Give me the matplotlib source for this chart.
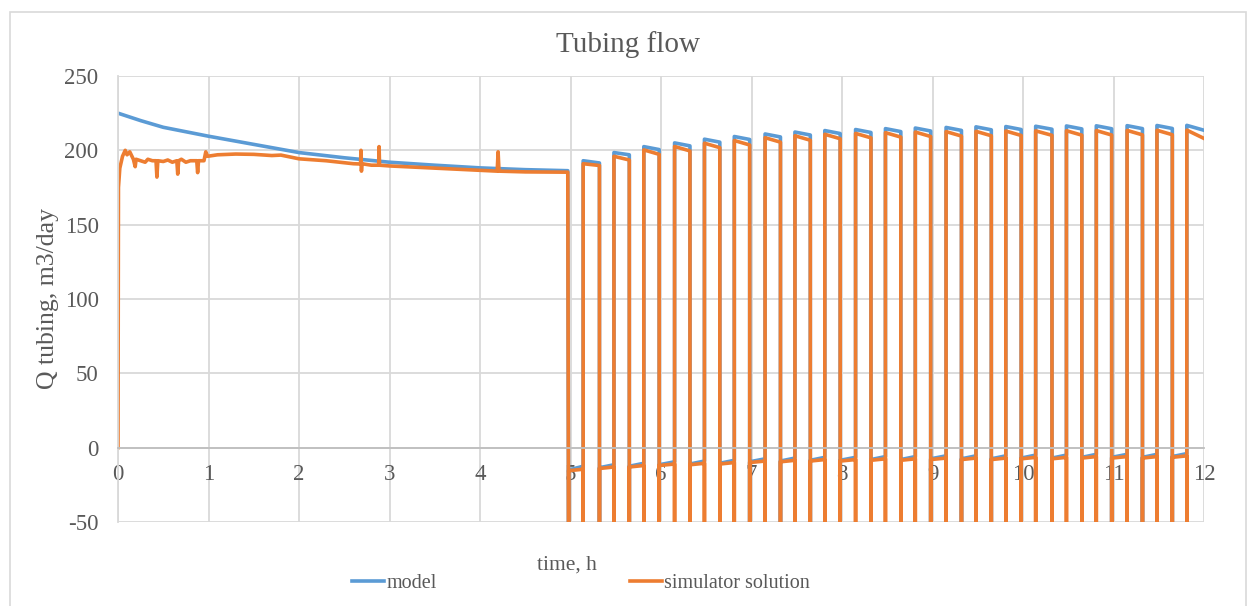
import matplotlib
matplotlib.use("Agg")
import matplotlib.pyplot as plt
from matplotlib.patches import Rectangle

# ---- data ----
# continuous production part (0 .. ~5 h)
model_t0 = [0, 0.25, 0.5, 1.0, 1.5, 2.0, 2.5, 3.0, 3.5, 4.0, 4.5, 4.97]
model_q0 = [225, 220, 215.5, 209.5, 204, 198.5, 195, 192, 190, 188.2, 187, 186.3]

sim_t0 = [0, 0.005, 0.02, 0.05, 0.08, 0.1, 0.13, 0.17, 0.19, 0.2, 0.25, 0.3,
          0.33, 0.38, 0.42, 0.43, 0.44, 0.5, 0.55, 0.6, 0.65, 0.66, 0.67, 0.7,
          0.75, 0.8, 0.87, 0.88, 0.89, 0.95, 0.97, 0.99, 1.1, 1.3, 1.5, 1.7,
          1.8, 2.0, 2.3, 2.6, 2.68, 2.685, 2.69, 2.695, 2.8, 2.88, 2.885, 2.89,
          3.0, 3.5, 4.0, 4.19, 4.2, 4.21, 4.5, 4.97]
sim_q0 = [0, 175, 188, 196, 200, 197, 199, 194, 189, 194, 193, 192,
          194, 193, 193, 182, 193, 192.5, 193.5, 192, 193, 184, 193, 194,
          192, 193, 193, 185, 193, 193, 199, 196, 197, 197.5, 197.3, 196.5,
          196.8, 194.3, 193, 191, 190.8, 200, 186, 191, 190, 190, 202.5, 190,
          189.5, 188, 186.5, 186, 199, 186, 185.5, 185.3]

# on/off cycling part (valve closes at drop_t, opens at rise_t)
drop_t = [4.98, 5.32, 5.65, 5.98, 6.32, 6.65, 6.98, 7.32, 7.65, 7.98, 8.32,
          8.65, 8.98, 9.32, 9.65, 9.98, 10.32, 10.65, 10.98, 11.32, 11.65]
rise_t = [5.14, 5.48, 5.81, 6.15, 6.48, 6.81, 7.15, 7.48, 7.81, 8.15, 8.48,
          8.81, 9.15, 9.48, 9.81, 10.14, 10.48, 10.81, 11.15, 11.48, 11.81]

model_off_a = [-15, -13.5, -12.5, -11.5, -11, -10.5, -9.5, -9, -8.5, -8.5, -8,
               -8, -7.5, -7.5, -7.5, -7, -7, -6.5, -6.5, -6.5, -6]
model_off_b = [-12.5, -11.5, -10.5, -9.5, -9, -8.5, -7.5, -7, -6.5, -6.5, -6,
               -6, -5.5, -5.5, -5.5, -5, -5, -4.5, -4.5, -4.5, -4]
model_top_a = [193, 198.5, 202.5, 205, 207.5, 209.3, 211, 212.3, 213.3, 214, 214.6,
               215, 215.4, 215.8, 216, 216.2, 216.4, 216.5, 216.6, 216.7, 216.8]
model_top_b = [191.5, 197, 200.5, 203, 205.5, 207.3, 209, 210.3, 211.3, 212, 212.6,
               213, 213.4, 213.8, 214, 214.2, 214.4, 214.5, 214.6, 214.7, 213.5]

sim_off_a = [-15.5, -14, -13, -12, -11.5, -11, -10, -9.5, -9, -9, -8.5,
             -8.5, -8, -8, -8, -7.5, -7.5, -7, -7, -7, -6.5]
sim_off_b = [-14.5, -13, -12, -11, -10.5, -10, -9, -8.5, -8, -8, -7.5,
             -7.5, -7, -7, -7, -6.5, -6.5, -6, -6, -6, -5.5]
sim_top_a = [191, 196, 200.3, 202.6, 204.8, 206.6, 208.5, 209.8, 210.8, 211.4, 211.9,
             212.3, 212.6, 212.8, 213, 213.1, 213.2, 213.3, 213.4, 213.5, 213.6]
sim_top_b = [189.8, 193.5, 197.3, 199.6, 201.8, 203.6, 205.5, 206.8, 207.8, 208.4, 208.9,
             209.3, 209.6, 209.8, 210, 210.1, 210.2, 210.3, 210.4, 210.5, 208]
sim_spike = -100   # transient below the axis minimum (clipped)
t_end = 12

# ---- assemble the step series from the values above ----
model_t, model_q = list(model_t0), list(model_q0)
sim_t, sim_q = list(sim_t0), list(sim_q0)
for k in range(len(drop_t)):
    t_next = drop_t[k + 1] if k + 1 < len(drop_t) else t_end
    model_t += [drop_t[k], drop_t[k], rise_t[k], rise_t[k], t_next]
    model_q += [sim_spike, model_off_a[k], model_off_b[k], model_top_a[k], model_top_b[k]]
    sim_t += [drop_t[k], drop_t[k], rise_t[k], rise_t[k], rise_t[k], t_next]
    sim_q += [sim_spike, sim_off_a[k], sim_off_b[k], sim_spike, sim_top_a[k], sim_top_b[k]]

# ---- plot ----
plt.rcParams['font.family'] = ['Liberation Serif', 'DejaVu Serif']
plt.rcParams['axes.unicode_minus'] = False
txt = '#595959'
grid = '#D9D9D9'

fig = plt.figure(figsize=(12.52, 6.06), dpi=100)
ax = fig.add_axes([118 / 1252, 1 - 522 / 606, (1204 - 118) / 1252, (522 - 76) / 606])

ax.plot(model_t, model_q, color='#5B9BD5', lw=2.6, label='model')
ax.plot(sim_t, sim_q, color='#ED7D31', lw=2.6, label='simulator solution')

ax.set_xlim(0, 12)
ax.set_ylim(-50, 250)
ax.set_xticks(range(0, 13))
ax.set_yticks(range(-50, 251, 50))
ax.grid(True, color=grid, lw=1.3)
ax.set_axisbelow(True)

for s in ['top', 'right']:
    ax.spines[s].set_visible(False)
ax.spines['left'].set_color(grid)
ax.spines['left'].set_linewidth(1.3)
ax.spines['bottom'].set_position(('data', 0))
ax.spines['bottom'].set_color('#BFBFBF')
ax.spines['bottom'].set_linewidth(1.3)

ax.tick_params(axis='both', length=0, labelsize=16.5, labelcolor=txt)
ax.tick_params(axis='x', pad=12)
ax.tick_params(axis='y', pad=14)

fig.text(628 / 1252, 1 - 45 / 606, 'Tubing flow', fontsize=21, color=txt,
         ha='center', va='center')
fig.text(48 / 1252, 1 - 298 / 606, 'Q tubing, m3/day', fontsize=18.5, color=txt,
         rotation=90, ha='center', va='center')
fig.text(567 / 1252, 1 - 565 / 606, 'time, h', fontsize=15.5, color=txt,
         ha='center', va='center')

fig.legend(loc='center left', bbox_to_anchor=(352 / 1252, 1 - 583 / 606), ncol=2,
           frameon=False, fontsize=14.5, labelcolor=txt, handlelength=1.6,
           handletextpad=0.1, columnspacing=9.6, borderpad=0, borderaxespad=0)

# light chart border
fig.patches.append(Rectangle((10 / 1252, -0.05), (1246 - 10) / 1252, 1.05 - 12 / 606,
                             transform=fig.transFigure, fill=False,
                             edgecolor=grid, lw=1.2))

fig.savefig('out.png', dpi=100)
